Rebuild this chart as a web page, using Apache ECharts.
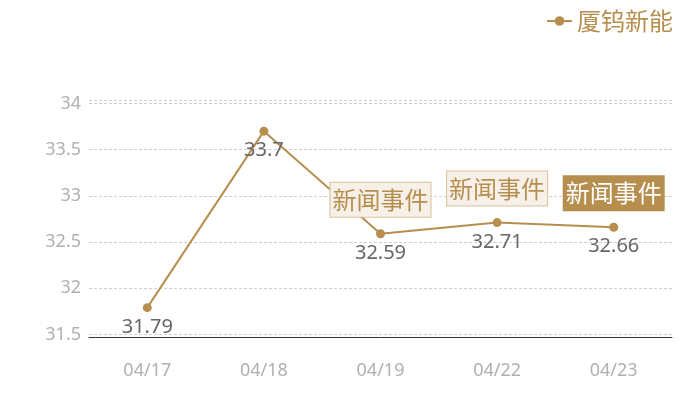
<!DOCTYPE html>
<html lang="zh">

<head>
    <meta charset="UTF-8">
    <title>厦钨新能</title>
    <script src="https://cdn.jsdelivr.net/npm/echarts@6/dist/echarts.min.js"></script>
    <style>
        html, body { margin: 0; padding: 0; background: #fff; }
        #container { width: 700px; height: 400px; }
    </style>
</head>

<body>
    <div id="container"></div>
    <script type="text/javascript">
        var dates = ['04/17', '04/18', '04/19', '04/22', '04/23'];
        var prices = [31.79, 33.7, 32.59, 32.71, 32.66];
        var newsDates = ['04/19', '04/22', '04/23'];
        var newsText = '新闻事件';
        var activeNews = '04/23';

        var gold = '#b68f4f';
        var numFont = "'Noto Sans', 'Noto Sans CJK SC', sans-serif";
        var cjkFont = "'Noto Sans CJK SC', sans-serif";

        var newsPoints = newsDates.map(function (d) {
            var v = prices[dates.indexOf(d)];
            var active = d === activeNews;
            return {
                coord: [d, v],
                label: {
                    color: active ? '#fff' : gold,
                    backgroundColor: active ? gold : '#f6f0e8',
                    borderColor: active ? gold : '#d9c097'
                }
            };
        });

        var myChart = echarts.init(document.getElementById('container'), null, { renderer: 'canvas' });

        var option = {
            animation: false,
            legend: {
                top: 4,
                right: 22,
                itemWidth: 25,
                itemHeight: 12,
                itemGap: 6,
                textStyle: { color: gold, fontSize: 24, fontFamily: cjkFont },
                data: ['厦钨新能']
            },
            grid: { left: 89, right: 28, top: 100, bottom: 63 },
            xAxis: {
                type: 'category',
                data: dates,
                axisLine: { lineStyle: { color: '#333', width: 1 } },
                axisTick: { show: false },
                axisLabel: { color: '#b0b0b0', fontSize: 18, margin: 25, fontFamily: numFont }
            },
            yAxis: {
                type: 'value',
                min: Math.min.apply(null, prices) * 0.99,
                max: Math.max.apply(null, prices) * 1.01,
                splitNumber: 5,
                axisLine: { show: false },
                axisTick: { show: false },
                axisLabel: {
                    color: '#b0b0b0', fontSize: 18, fontFamily: numFont,
                    showMinLabel: false, showMaxLabel: false,
                    formatter: function (v) {
                        return Math.abs(v * 2 - Math.round(v * 2)) < 1e-6 ? String(+v.toFixed(1)) : '';
                    }
                },
                splitLine: { lineStyle: { color: '#cfcfcf', type: [3, 2] } }
            },
            series: [{
                name: '厦钨新能',
                type: 'line',
                data: prices,
                symbol: 'circle',
                symbolSize: 9,
                color: gold,
                lineStyle: { width: 2, color: gold },
                label: {
                    show: true, position: 'bottom', distance: 5,
                    color: '#666', fontSize: 20, fontFamily: numFont
                },
                markPoint: {
                    symbolSize: 0,
                    label: {
                        show: true,
                        position: 'top',
                        distance: 17,
                        formatter: newsText,
                        fontSize: 24,
                        fontFamily: cjkFont,
                        lineHeight: 28,
                        padding: [3, 2],
                        borderWidth: 1
                    },
                    data: newsPoints
                }
            }]
        };

        myChart.setOption(option);
        window.addEventListener('resize', myChart.resize);
    </script>
</body>

</html>
